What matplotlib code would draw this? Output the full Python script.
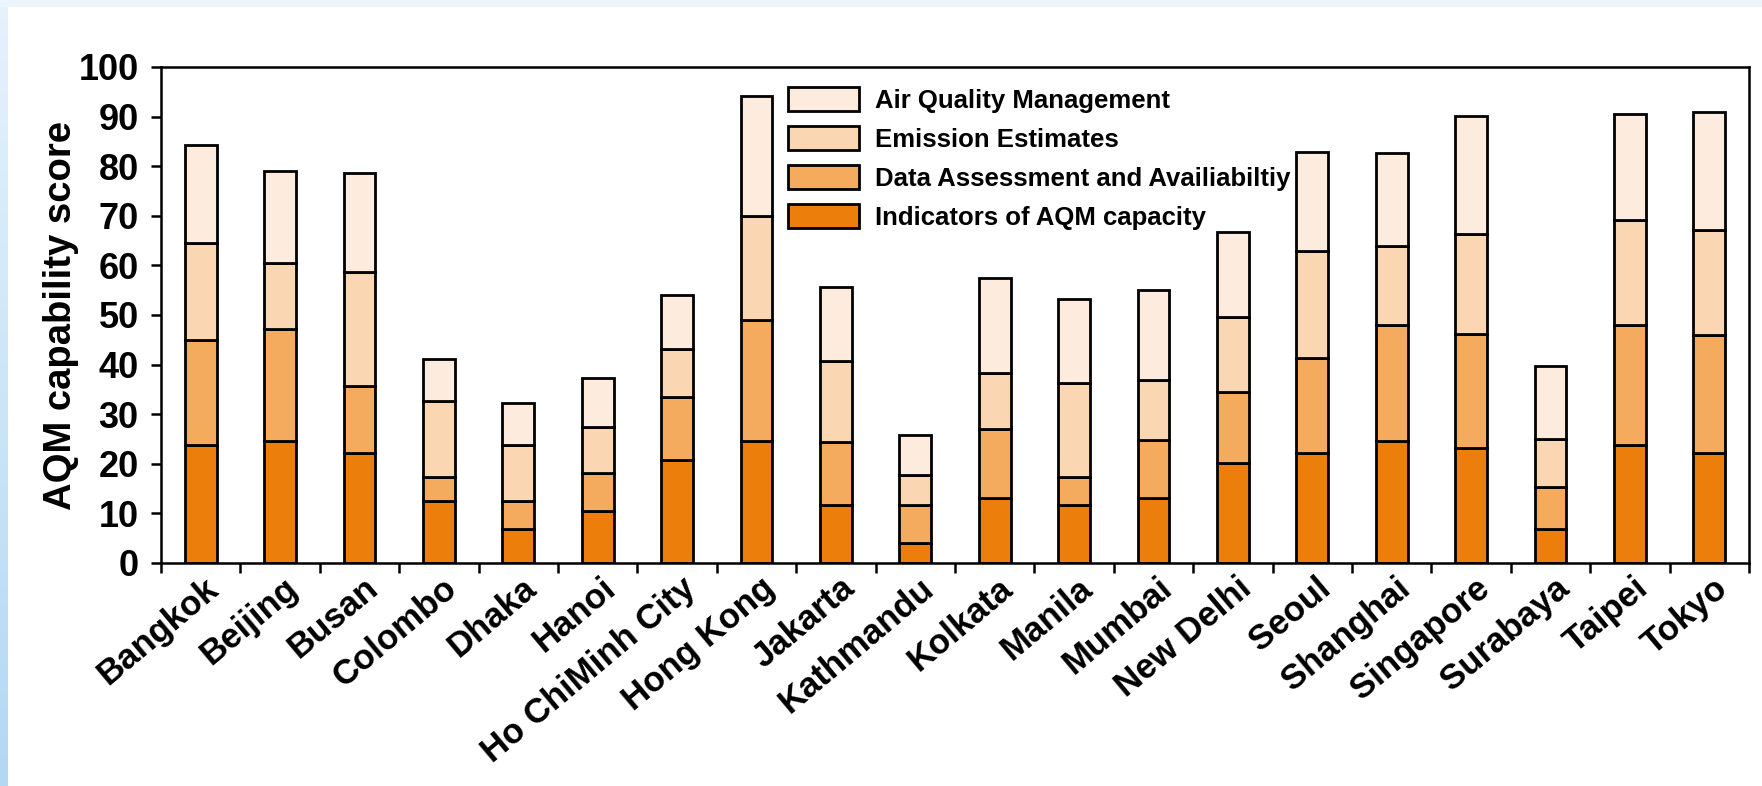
import numpy as np
import matplotlib
matplotlib.use("Agg")
import matplotlib.pyplot as plt
from matplotlib.transforms import ScaledTranslation
from matplotlib.colors import LinearSegmentedColormap

# ---------------- data ----------------
cities = ["Bangkok", "Beijing", "Busan", "Colombo", "Dhaka", "Hanoi",
          "Ho ChiMinh City", "Hong Kong", "Jakarta", "Kathmandu", "Kolkata",
          "Manila", "Mumbai", "New Delhi", "Seoul", "Shanghai", "Singapore",
          "Surabaya", "Taipei", "Tokyo"]
indicators = [23.8, 24.6, 22.2, 12.5, 6.8, 10.4, 20.8, 24.6, 11.7, 4.0,
              13.2, 11.7, 13.2, 20.1, 22.2, 24.6, 23.2, 6.8, 23.8, 22.2]
data_assessment = [21.2, 22.5, 13.4, 4.9, 5.7, 7.7, 12.7, 24.4, 12.7, 7.7,
                   13.9, 5.7, 11.6, 14.3, 19.1, 23.4, 23.0, 8.6, 24.2, 23.7]
emission_estimates = [19.5, 13.4, 23.1, 15.2, 11.3, 9.4, 9.7, 21.0, 16.4, 6.1,
                      11.3, 18.9, 12.0, 15.2, 21.6, 16.0, 20.1, 9.6, 21.2, 21.2]
air_quality_mgmt = [19.7, 18.5, 20.0, 8.5, 8.5, 9.7, 10.9, 24.1, 14.8, 8.1,
                    19.0, 16.9, 18.2, 17.2, 20.0, 18.6, 23.9, 14.8, 21.3, 23.9]
series_labels = ["Indicators of AQM capacity", "Data Assessment and Availiabiltiy",
                 "Emission Estimates", "Air Quality Management"]
series_colors = ["#EC7F0C", "#F5AB5E", "#FBD6B2", "#FDEBDD"]
y_ticks = [0, 10, 20, 30, 40, 50, 60, 70, 80, 90, 100]
y_label = "AQM capability score"

# ---------------- figure ----------------
W, H, DPI = 1762, 786, 100
fig = plt.figure(figsize=(W / DPI, H / DPI), dpi=DPI, facecolor="white")
FONT = "Liberation Sans"

# decorative light-blue frame strips (left and top)
left_strip = fig.add_axes([0, 0, 8 / W, 1])
grad = np.linspace(0, 1, 256).reshape(-1, 1)
cm = LinearSegmentedColormap.from_list("b", ["#b3d8f4", "#e6f2fc"])
left_strip.imshow(grad, aspect="auto", cmap=cm, origin="lower")
left_strip.axis("off")
top_strip = fig.add_axes([0, 1 - 7 / H, 1, 7 / H])
top_strip.set_facecolor("#edf5fc")
top_strip.set_xticks([]); top_strip.set_yticks([])
for s in top_strip.spines.values():
    s.set_visible(False)

ax = fig.add_axes([161 / W, 1 - 563 / H, (1749 - 161) / W, (563 - 67) / H])

x = np.arange(len(cities))
series = [indicators, data_assessment, emission_estimates, air_quality_mgmt]
bottom = np.zeros(len(cities))
handles = []
for vals, lab, col in zip(series, series_labels, series_colors):
    vals = np.asarray(vals, dtype=float)
    b = ax.bar(x, vals, width=0.4, bottom=bottom, color=col, edgecolor="black",
               linewidth=2.0, label=lab, zorder=3)
    handles.append(b)
    bottom = bottom + vals

ax.set_xlim(-0.5, len(cities) - 0.5)
ax.set_ylim(0, 100)
ax.set_yticks(y_ticks)
ax.set_yticklabels([str(v) for v in y_ticks], fontfamily=FONT,
                   fontweight="bold", fontsize=26)
ax.tick_params(axis="y", direction="out", length=7, width=1.8, pad=9)

# category boundaries as ticks, labels at bar centres
ax.set_xticks(np.arange(-0.5, len(cities)), minor=False)
ax.set_xticklabels([])
ax.set_xticks(x, minor=True)
ax.set_xticklabels(cities, minor=True, rotation=40, ha="right", va="center",
                   rotation_mode="anchor", fontfamily=FONT, fontweight="bold",
                   fontsize=25)
ax.tick_params(axis="x", which="major", direction="out", length=7, width=1.8)
ax.tick_params(axis="x", which="minor", length=0, pad=15)
offset = ScaledTranslation(14 / DPI, 0, fig.dpi_scale_trans)
for lbl in ax.get_xticklabels(minor=True):
    lbl.set_transform(lbl.get_transform() + offset)

for s in ax.spines.values():
    s.set_linewidth(1.8)
    s.set_zorder(4)

ax.set_ylabel(y_label, fontfamily=FONT, fontweight="bold", fontsize=27.5,
              labelpad=0)

leg = ax.legend(handles[::-1], series_labels[::-1], loc="upper left",
                bbox_to_anchor=(0.395, 0.96), frameon=False,
                prop={"family": FONT, "size": 18.5, "weight": "bold"},
                handlelength=2.75, handleheight=1.05, labelspacing=0.52,
                handletextpad=0.62, borderpad=0, borderaxespad=0)

fig.savefig("out.png", dpi=DPI, facecolor="white")
